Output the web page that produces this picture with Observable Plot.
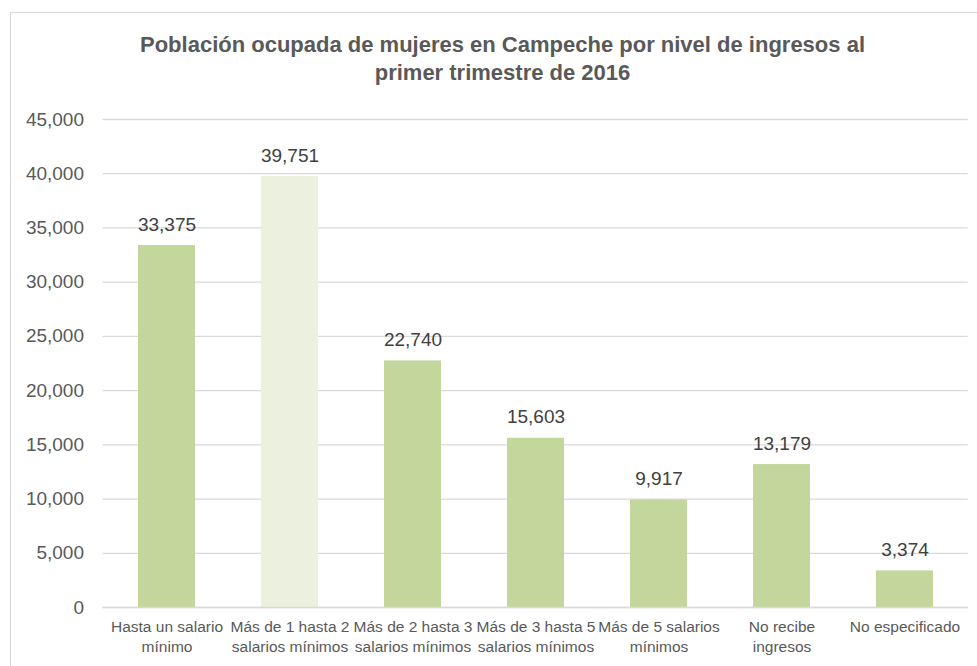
<!DOCTYPE html>
<html>
<head>
<meta charset="utf-8">
<script src="https://cdn.jsdelivr.net/npm/d3@7"></script>
<script src="https://cdn.jsdelivr.net/npm/@observablehq/plot@0.6"></script>
<style>
  html, body { margin: 0; padding: 0; background: #fff; overflow: hidden; }
  #wrap { position: relative; width: 977px; height: 666px; font-family: "Liberation Sans", Arial, sans-serif; }
  #frame { position: absolute; left: 10px; top: 12px; width: 1000px; height: 700px; border: 1px solid #d9d9d9; box-sizing: border-box; }
  #title { position: absolute; left: 14px; top: 31px; width: 977px; text-align: center; font-weight: bold; font-size: 22px; line-height: 28px; color: #595959; font-family: "Liberation Sans", Arial, sans-serif; }
  #chart { position: absolute; left: 0; top: 0; }
</style>
</head>
<body>
<div id="wrap">
  <div id="frame"></div>
  <div id="chart"></div>
  <div id="title">Población ocupada de mujeres en Campeche por nivel de ingresos al<br>primer trimestre de 2016</div>
</div>
<script>
const categories = [
  "Hasta un salario\nmínimo",
  "Más de 1 hasta 2\nsalarios mínimos",
  "Más de 2 hasta 3\nsalarios mínimos",
  "Más de 3 hasta 5\nsalarios mínimos",
  "Más de 5 salarios\nmínimos",
  "No recibe\ningresos",
  "No especificado"
];
const values = [33375, 39751, 22740, 15603, 9917, 13179, 3374];
const barColors = ["#c3d69b", "#ebf1de", "#c3d69b", "#c3d69b", "#c3d69b", "#c3d69b", "#c3d69b"];
const yTicks = [0, 5000, 10000, 15000, 20000, 25000, 30000, 35000, 40000, 45000];

const data = categories.map((c, i) => ({category: c, value: values[i], color: barColors[i]}));
const fmt = d3.format(",");

const chart = Plot.plot({
  width: 977,
  height: 666,
  marginTop: 119,
  marginBottom: 59,
  marginLeft: 102.5,
  marginRight: 9.3,
  style: {fontFamily: "'Liberation Sans', Arial, sans-serif", background: "transparent"},
  x: {domain: categories, paddingInner: 0.54, paddingOuter: 0.27, align: 0.5},
  y: {domain: [0, 45000]},
  marks: [
    Plot.gridY(yTicks, {stroke: "#d9d9d9", strokeOpacity: 1, strokeWidth: 1.3}),
    Plot.barY(data, {x: "category", y: "value", fill: "color"}),
    Plot.ruleY([0], {stroke: "#d9d9d9", strokeWidth: 1.3}),
    Plot.text(data, {x: "category", y: "value", text: d => fmt(d.value), dy: -21, fontSize: 19, fill: "#404040"}),
    Plot.axisY(yTicks, {tickSize: 0, tickPadding: 19, tickFormat: fmt, fontSize: 19, fill: "#595959", label: null}),
    Plot.axisX({tickSize: 0, tickPadding: 10, fontSize: 15.5, lineHeight: 1.3, fill: "#595959", label: null, textAnchor: "middle"})
  ]
});
document.getElementById("chart").appendChild(chart);
</script>
</body>
</html>
